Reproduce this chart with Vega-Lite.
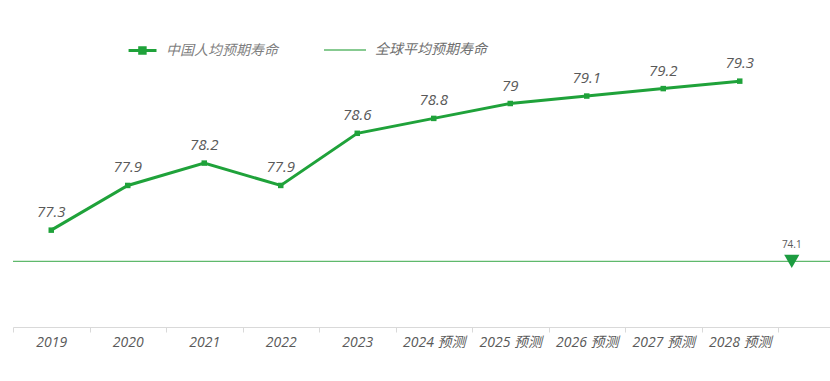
{
  "$schema": "https://vega.github.io/schema/vega-lite/v6.json",
  "width": 817,
  "height": 298,
  "autosize": {"type": "none"},
  "padding": {"left": 13, "top": 29, "right": 0, "bottom": 54},
  "background": "white",
  "config": {"view": {"stroke": null}, "font": "Open Sans, Noto Sans CJK SC"},
  "datasets": {
    "china": [
      {"year": "2019", "value": 77.3},
      {"year": "2020", "value": 77.9},
      {"year": "2021", "value": 78.2},
      {"year": "2022", "value": 77.9},
      {"year": "2023", "value": 78.6},
      {"year": "2024 预测", "value": 78.8},
      {"year": "2025 预测", "value": 79.0},
      {"year": "2026 预测", "value": 79.1},
      {"year": "2027 预测", "value": 79.2},
      {"year": "2028 预测", "value": 79.3}
    ],
    "world": [{"year": " ", "value": 74.1}]
  },
  "layer": [
    {
      "data": {"name": "china"},
      "encoding": {
        "y": {"field": "value", "type": "quantitative", "scale": {"domain": [76, 80], "nice": false, "zero": false}, "axis": null}
      },
      "layer": [
        {
          "mark": {"type": "line", "strokeWidth": 3, "point": {"shape": "square", "size": 30, "filled": true}},
          "encoding": {
            "x": {
              "field": "year",
              "type": "nominal",
              "sort": null,
              "bandPosition": 0.5,
              "scale": {
                "type": "band",
                "domain": ["2019", "2020", "2021", "2022", "2023", "2024 预测", "2025 预测", "2026 预测", "2027 预测", "2028 预测", " "],
                "range": [0, 841.5],
                "paddingInner": 0,
                "paddingOuter": 0
              },
              "axis": {
                "title": null,
                "labelAngle": 0,
                "labelFontStyle": "italic",
                "labelFontSize": 14,
                "labelColor": "#595959",
                "labelPadding": 3,
                "tickBand": "extent",
                "tickSize": 5,
                "tickColor": "#d9d9d9",
                "domainColor": "#d9d9d9",
                "grid": false
              }
            },
            "color": {
              "datum": "中国人均预期寿命",
              "scale": {"range": ["#1fa23a"]},
              "legend": {
                "orient": "none",
                "legendX": 100,
                "legendY": -1,
                "title": null,
                "labelFontSize": 14,
                "labelFontStyle": "italic",
                "labelColor": "#7f7f7f",
                "symbolSize": 1764,
                "symbolType": "M-0.33,0H1M0.2,-0.13H0.46V0.13H0.2Z",
                "symbolStrokeWidth": 3,
                "symbolFillColor": "#1fa23a",
                "labelOffset": 8
              }
            }
          }
        },
        {
          "mark": {"type": "text", "dy": -18, "fontStyle": "italic", "fontSize": 15, "color": "#595959"},
          "encoding": {
            "x": {"field": "year", "type": "nominal", "sort": null, "bandPosition": 0.5},
            "text": {"field": "value", "type": "quantitative"}
          }
        }
      ]
    },
    {
      "data": {"name": "world"},
      "encoding": {
        "y": {"field": "value", "type": "quantitative", "scale": {"domain": [73, 78], "nice": false, "zero": false}, "axis": null}
      },
      "layer": [
        {
          "mark": {"type": "rule", "strokeWidth": 1.3},
          "encoding": {
            "color": {
              "datum": "全球平均预期寿命",
              "scale": {"range": ["#5fb96c"]},
              "legend": {
                "orient": "none",
                "legendX": 310,
                "legendY": -1,
                "title": null,
                "labelFontSize": 14,
                "labelFontStyle": "italic",
                "labelColor": "#6f6f6f",
                "symbolSize": 1764,
                "symbolType": "M-1,0H1",
                "symbolStrokeWidth": 1.5,
                "labelOffset": 8
              }
            }
          }
        },
        {
          "mark": {"type": "point", "shape": "triangle-down", "filled": true, "size": 230, "color": "#1c9c40", "opacity": 1},
          "encoding": {"x": {"field": "year", "type": "nominal", "sort": null, "bandPosition": 0.18}}
        },
        {
          "mark": {"type": "text", "dy": -16, "fontSize": 10, "color": "#595959"},
          "encoding": {
            "x": {"field": "year", "type": "nominal", "sort": null, "bandPosition": 0.18},
            "text": {"field": "value", "type": "quantitative"}
          }
        }
      ]
    }
  ],
  "resolve": {"scale": {"y": "independent", "color": "independent"}}
}
